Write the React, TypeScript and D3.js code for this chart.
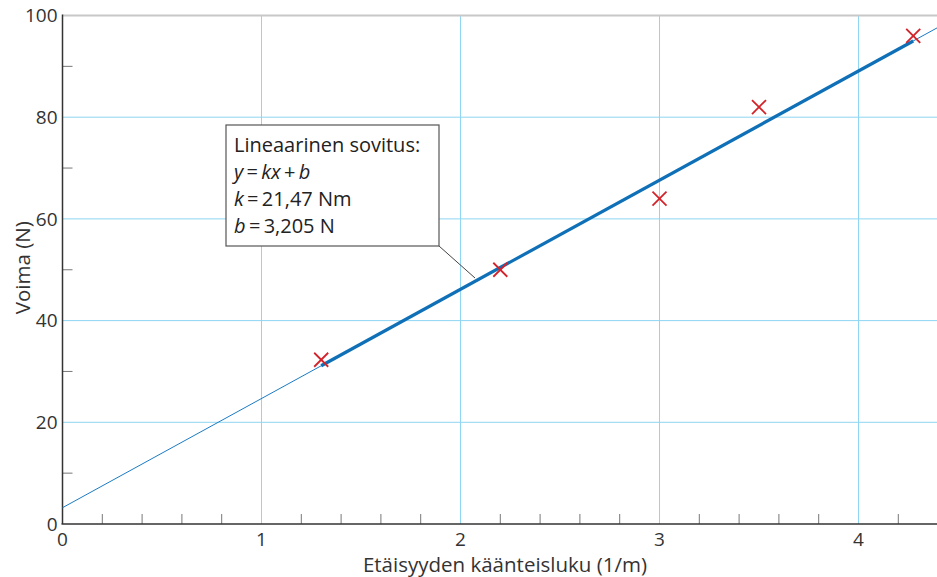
import React from "react";
import * as d3 from "d3";

const xValues = [1.3, 2.2, 3.0, 3.5, 4.275];
const yValues = [32.3, 50, 64, 82, 96];
const xTicks = [0, 1, 2, 3, 4];
const yTicks = [0, 20, 40, 60, 80, 100];
const slopeK = 21.47;
const interceptB = 3.205;
const boxLines = ["Lineaarinen sovitus:", "y\u2009=\u2009kx\u2009+\u2009b", "k\u2009=\u200921,47 Nm", "b\u2009=\u20093,205 N"];

const W = 937, H = 577;
const FONT = "'Open Sans', 'Noto Sans', sans-serif";

export default function App() {
  const x = d3.scaleLinear().domain([0, 4.4]).range([62.5, 62.5 + 4.4 * 199]);
  const y = d3.scaleLinear().domain([0, 100]).range([524, 15.5]);
  const xMinor = d3.range(0, 4.41, 0.2).filter((v) => Math.abs(v - Math.round(v)) > 1e-6);
  const yMinor = d3.range(10, 100, 20);
  const line = d3.line<number>().x((d) => x(d)).y((d) => y(slopeK * d + interceptB));
  const xMin = d3.min(xValues)!, xMax = d3.max(xValues)!;
  const italic = (s: string) => {
    const parts = s.split(/([ykxb])/);
    return parts.map((p, i) =>
      /^[ykxb]$/.test(p) ? <tspan key={i} fontStyle="italic">{p}</tspan> : <tspan key={i}>{p}</tspan>
    );
  };
  return (
    <svg width={W} height={H} style={{ position: "absolute", left: 0, top: 0 }} fontFamily={FONT}>
      <rect width={W} height={H} fill="#fff" />
      {xTicks.filter((t) => t > 0).map((t) => (
        <line key={"gx" + t} x1={x(t)} x2={x(t)} y1={y(0)} y2={y(100)} stroke="#8fd6f2" strokeWidth={1} />
      ))}
      {yTicks.filter((t) => t > 0 && t < 100).map((t) => (
        <line key={"gy" + t} x1={x(0)} x2={W} y1={y(t)} y2={y(t)} stroke="#8fd6f2" strokeWidth={1} />
      ))}
      <line x1={x(0)} x2={W} y1={y(100)} y2={y(100)} stroke="#c8c8c8" strokeWidth={2} />
      {xMinor.map((t, i) => (
        <line key={"mx" + i} x1={x(t)} x2={x(t)} y1={y(0)} y2={y(0) - 10} stroke="#777" strokeWidth={1} />
      ))}
      {yMinor.map((t) => (
        <line key={"my" + t} x1={x(0)} x2={x(0) + 10} y1={y(t)} y2={y(t)} stroke="#777" strokeWidth={1} />
      ))}
      <line x1={x(0)} x2={x(0)} y1={y(0)} y2={y(100) - 1} stroke="#333" strokeWidth={1.5} />
      <line x1={x(0) - 1} x2={W} y1={y(0)} y2={y(0)} stroke="#333" strokeWidth={1.5} />
      {yTicks.map((t) => (
        <text key={"ly" + t} x={x(0) - 5} y={y(t)} dy="0.36em" textAnchor="end" fontSize={19} fill="#333">{t}</text>
      ))}
      {xTicks.map((t) => (
        <text key={"lx" + t} x={x(t)} y={546} textAnchor="middle" fontSize={19} fill="#333">{t}</text>
      ))}
      <text x={505} y={572} textAnchor="middle" fontSize={20.5} fill="#333">Etäisyyden käänteisluku (1/m)</text>
      <text transform={`translate(30,${y(50) - 2}) rotate(-90)`} textAnchor="middle" fontSize={20.5} fill="#333">Voima (N)</text>
      <path d={line([0, 4.4])!} stroke="#1a7bc4" strokeWidth={1} fill="none" />
      <path d={line([xMin, xMax])!} stroke="#0f70b7" strokeWidth={3.2} fill="none" />
      {xValues.map((xv, i) => {
        const cx = x(xv), cy = y(yValues[i]), s = 7;
        return (
          <g key={"p" + i} stroke="#d2232a" strokeWidth={1.8}>
            <line x1={cx - s} y1={cy - s} x2={cx + s} y2={cy + s} />
            <line x1={cx - s} y1={cy + s} x2={cx + s} y2={cy - s} />
          </g>
        );
      })}
      <line x1={439} y1={246} x2={475} y2={278} stroke="#444" strokeWidth={1} />
      <rect x={226} y={125} width={213} height={121} fill="#fff" stroke="#555" strokeWidth={1.2} />
      {boxLines.map((s, i) => (
        <text key={"b" + i} x={234} y={152 + i * 27} fontSize={20} fill="#222">
          {i === 0 ? s : italic(s)}
        </text>
      ))}
    </svg>
  );
}
